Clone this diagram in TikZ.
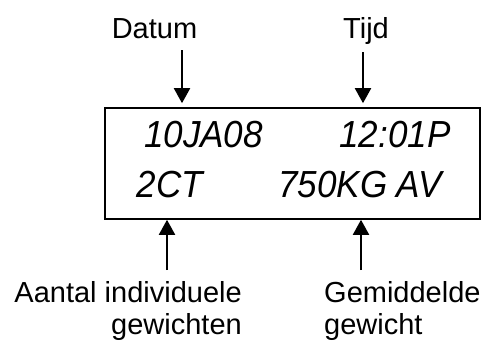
\documentclass[tikz,border=0pt]{standalone}
\usepackage{fontspec}
\setmainfont{Liberation Sans}
\usepackage{tikz}
\usetikzlibrary{arrows.meta,positioning,calc}
\tikzset{
  lbl/.style={font=\fontsize{29}{32}\selectfont, inner sep=0pt},
  lcd/.style={font=\fontsize{37.7}{40}\selectfont\itshape, inner sep=0pt, anchor=base},
  panel/.style={draw, line width=1.6pt, minimum width=375pt, minimum height=111pt,
    inner sep=0pt},
  pointer/.style={-{Triangle[length=15pt,width=16pt]}, line width=2pt},
}
\newcommand{\lcdtext}[1]{\scalebox{0.93}[1]{#1}}

\begin{document}
\begin{tikzpicture}[x=1pt,y=-1pt]
  \useasboundingbox (0,0) rectangle (491,343);
  % the display and its two rows
  \node[panel] (display) at (292.5,163.5) {};
  \node[lcd] (date) at (203.5,147) {\lcdtext{10JA08}};
  \node[lcd] (time) at (395,147) {\lcdtext{12:01P}};
  \node[lcd] (count) at (170,197) {\lcdtext{2CT}};
  \node[lcd] (avg) at (360,197) {\lcdtext{750KG AV}};
  % labels above
  \node[lbl, anchor=base] (datum) at (154.5,38) {Datum};
  \node[lbl, anchor=base] (tijd) at (366,38) {Tijd};
  % labels below (base = baseline of the last line)
  \node[lbl, anchor=base east, align=right] (aantal) at (242,334)
    {Aantal individuele\\gewichten};
  \node[lbl, anchor=base west, align=left] (gemid) at (324,334)
    {Gemiddelde\\gewicht};
  % pointers
  \coordinate (datumtail) at (182,50);
  \coordinate (tijdtail) at (363,52);
  \coordinate (aantaltail) at (167,270);
  \coordinate (gemidtail) at (361,270);
  \draw[pointer, shorten >=4pt] (datumtail) -- (datumtail |- display.north);
  \draw[pointer, shorten >=4pt] (tijdtail) -- (tijdtail |- display.north);
  \draw[pointer] (aantaltail) -- (aantaltail |- display.south);
  \draw[pointer] (gemidtail) -- (gemidtail |- display.south);
\end{tikzpicture}
\end{document}
